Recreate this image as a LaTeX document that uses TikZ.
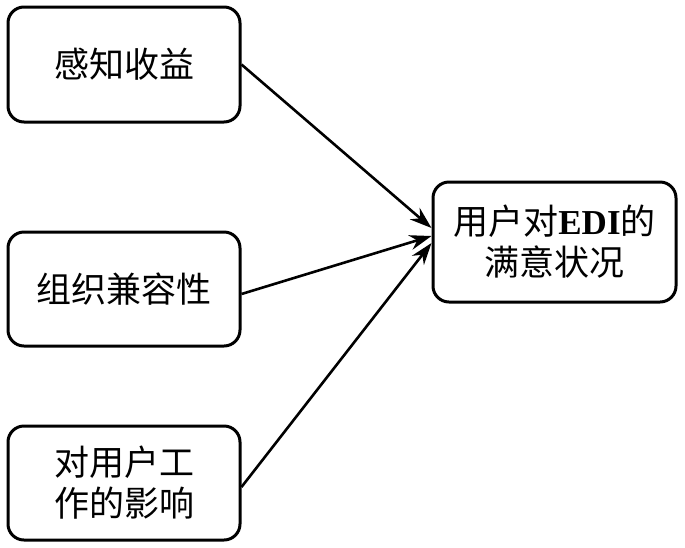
\documentclass[tikz,border=0pt]{standalone}
\usepackage{fontspec}
\setmainfont{Liberation Serif}
\newfontfamily\cjk{Noto Sans CJK SC}
\usetikzlibrary{arrows.meta}
\begin{document}
\begin{tikzpicture}[x=1pt,y=-1pt,
  boxstyle/.style={draw, line width=3pt, rounded corners=16pt, font=\cjk\fontsize{35}{41}\selectfont, align=center, inner sep=0pt},
  arr/.style={line width=2.6pt, -{Stealth[length=22pt,width=15pt]}}]
\useasboundingbox (0,0) rectangle (685,547);
\node[boxstyle, minimum width=232pt, minimum height=115pt] (b1) at (124,64.5) {感知收益};
\node[boxstyle, minimum width=232pt, minimum height=114pt] (b2) at (124,289) {组织兼容性};
\node[boxstyle, minimum width=232pt, minimum height=114pt] (b3) at (124,483) {对用户工\\作的影响};
\node[boxstyle, minimum width=243pt, minimum height=120pt] (r) at (554.5,242) {用户对{\rmfamily\bfseries EDI}的\\满意状况};
\draw[arr] (b1.east) -- ([yshift=14pt]r.west);
\draw[arr] ([yshift=-5pt]b2.east) -- ([yshift=6pt]r.west);
\draw[arr] ([yshift=-4pt]b3.east) -- ([yshift=-1pt]r.west);
\end{tikzpicture}
\end{document}
